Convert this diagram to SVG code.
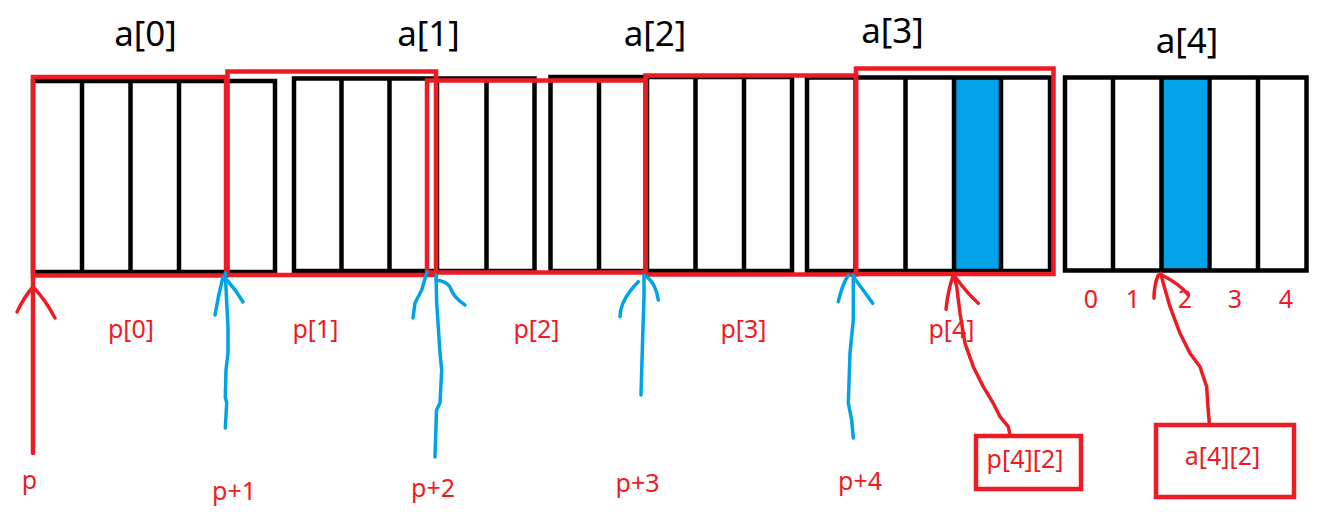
<svg xmlns="http://www.w3.org/2000/svg" width="1341" height="520" viewBox="0 0 1341 520">
<defs>
<style>
.blk{fill:none;stroke:#000;stroke-width:4.5}
.cell{fill:#00A2E8;stroke:none}
.rr{fill:none;stroke:#ED1C24;stroke-width:4.5}
.ba{fill:none;stroke:#00A2E8;stroke-width:3.5;stroke-linecap:round;stroke-linejoin:round}
.ra{fill:none;stroke:#ED1C24;stroke-width:3.5;stroke-linecap:round;stroke-linejoin:round}
.top{font-family:"Noto Sans","DejaVu Sans",sans-serif;font-size:35px;fill:#000;text-anchor:middle}
.lbl{font-family:"Noto Sans","DejaVu Sans",sans-serif;font-size:25px;fill:#ED1C24;text-anchor:middle}
</style>
</defs>
<rect width="1341" height="520" fill="#fff"/>

<g id="a0">
<rect class="blk" x="33" y="81" width="242" height="191"/>
<path class="blk" d="M82,81V272M130.5,81V272M179,81V272M227,81V272"/>
<text class="top" x="145.5" y="46">a[0]</text>
</g>
<g id="a1">
<rect class="blk" x="294" y="78.5" width="240.5" height="192.5"/>
<path class="blk" d="M341.5,78.5V271M389.5,78.5V271M437,78.5V271M486.5,78.5V271"/>
<text class="top" x="428.5" y="46">a[1]</text>
</g>
<g id="a2">
<rect class="blk" x="550.5" y="77" width="241.5" height="194"/>
<path class="blk" d="M599,77V271M647,77V271M695.5,77V271M744,77V271"/>
<text class="top" x="655" y="46">a[2]</text>
</g>
<g id="a3">
<rect class="cell" x="954" y="77.5" width="47" height="193.5"/>
<rect class="blk" x="807" y="77.5" width="243" height="193.5"/>
<path class="blk" d="M855.5,77.5V271M905.5,77.5V271M954,77.5V271M1001,77.5V271"/>
<text class="top" x="892.5" y="43">a[3]</text>
</g>
<g id="a4">
<rect class="cell" x="1161.5" y="77.5" width="48" height="193"/>
<rect class="blk" x="1065" y="77.5" width="241.5" height="193"/>
<path class="blk" d="M1113,77.5V270.5M1161.5,77.5V270.5M1209.5,77.5V270.5M1258,77.5V270.5"/>
<text class="top" x="1187" y="53">a[4]</text>
</g>

<g id="p0"><rect class="rr" x="33" y="77" width="193" height="198.5"/><text class="lbl" x="131" y="337.5">p[0]</text></g>
<g id="p1"><rect class="rr" x="227.5" y="71.5" width="208.5" height="203.5"/><text class="lbl" x="315.5" y="337.5">p[1]</text></g>
<g id="p2"><rect class="rr" x="427" y="80.5" width="218.5" height="192"/><text class="lbl" x="536.5" y="337.5">p[2]</text></g>
<g id="p3"><rect class="rr" x="645.5" y="75.5" width="210.5" height="199"/><text class="lbl" x="743.5" y="337.5">p[3]</text></g>
<g id="p4"><rect class="rr" x="856" y="68.5" width="197.5" height="205.5"/><text class="lbl" x="951.5" y="337.5">p[4]</text></g>

<g id="index">
<text class="lbl" x="1091" y="308">0</text>
<text class="lbl" x="1133" y="308">1</text>
<text class="lbl" x="1185" y="308">2</text>
<text class="lbl" x="1235" y="308">3</text>
<text class="lbl" x="1286" y="308">4</text>
</g>

<g id="connectors">
<path class="ra" style="stroke-width:4.5" d="M33,276V453"/>
<path class="ra" d="M33,287Q24,297 17,312M33,287Q45,299 55,318"/>
<path class="ba" d="M225.3,273L226.7,303L228,327L228,353L226,370L225.3,397L226.7,403L225.3,428"/>
<path class="ba" d="M223,277Q218,297 215,315M227,280Q236,290 243,302"/>
<path class="ba" d="M436,275L436.7,303L440,353L441.7,370L440,403L436.5,410L435,457"/>
<path class="ba" d="M427,272L421.7,290L415,303L413,318M436,280Q446,281 450,287Q453,297 465,305"/>
<path class="ba" d="M644,275L644,297L642.7,337L641.7,370L641,395"/>
<path class="ba" d="M638.3,281.7Q628,292 623,303Q620,310 620,316.7M646.7,276.7Q656,284 658.3,300"/>
<path class="ba" d="M853.3,275L853.3,320L850,353L848.3,403L851.7,420L853.3,438"/>
<path class="ba" d="M848.3,275Q842,285 838.3,301.7M853.3,276.7Q864,291 872.7,303.3"/>
<path class="ra" d="M953.3,273.3L956.7,286.7L960,313.3L965,343.3L973.3,366.7L983.3,386.7L993.3,403.3L1000,416.7L1008.3,426.7L1010,435"/>
<path class="ra" d="M953.3,275Q948,290 946,309.3M955,276.7Q968,294 978.3,303.3"/>
<path class="ra" d="M1160.7,273.3L1163.3,283.3L1170,306.7L1180,333.3L1190,353.3L1200,366.7L1206.7,386.7L1207.7,403.3L1209.3,423.3"/>
<path class="ra" d="M1158.3,275Q1154,285 1154,298.3M1161.7,275Q1180,284 1188.3,295"/>
</g>

<g id="ptr-labels">
<text class="lbl" x="29.5" y="489">p</text>
<text class="lbl" x="234" y="500">p+1</text>
<text class="lbl" x="433" y="497">p+2</text>
<text class="lbl" x="637.5" y="492">p+3</text>
<text class="lbl" x="860" y="490">p+4</text>
</g>

<g id="p42"><rect class="rr" x="976" y="436" width="105" height="53"/><text class="lbl" x="1025" y="468">p[4][2]</text></g>
<g id="a42"><rect class="rr" x="1156" y="425" width="138" height="72"/><text class="lbl" x="1222.5" y="465">a[4][2]</text></g>
</svg>
